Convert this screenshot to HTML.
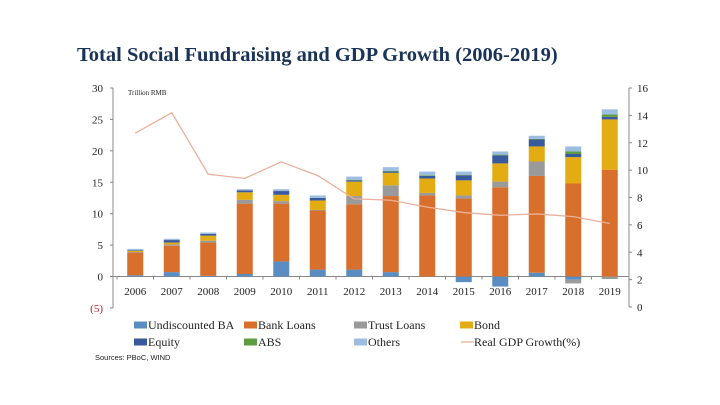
<!DOCTYPE html>
<html><head><meta charset="utf-8">
<style>
body{margin:0;background:#fff;width:720px;height:405px;overflow:hidden}
svg{display:block}
text{font-family:"Liberation Serif",serif;fill:#222}
</style></head>
<body>
<svg id="chart" width="720" height="405">
<text x="77" y="61" font-size="20.5" font-weight="bold" style="fill:#1a3358">Total Social Fundraising and GDP Growth (2006-2019)</text>
<text x="128" y="95" font-size="7">Trillion RMB</text>
<text x="95" y="360" font-size="7.5" style="font-family:'Liberation Sans',sans-serif">Sources: PBoC, WIND</text>
<g id="axes"></g><g id="bars"></g><g id="line"></g><g id="legend"></g>
</svg>
<script>
const years=['2006','2007','2008','2009','2010','2011','2012','2013','2014','2015','2016','2017','2018','2019'];
const ba=[0.2,0.7,0.1,0.4,2.4,1.1,1.1,0.7,0,-0.9,-1.6,0.6,-0.5,0];
const loans=[3.6,4.2,5.3,11.2,9.2,9.4,10.4,12.1,12.9,12.4,14.2,15.4,14.8,17.0];
const trust=[0.1,0.2,0.3,0.6,0.4,0.1,1.3,1.7,0.4,0.5,0.9,2.3,-0.6,-0.4];
const bond=[0.2,0.3,0.8,1.2,1.0,1.5,2.3,2.0,2.3,2.4,2.9,2.4,4.2,8.0];
const equity=[0.1,0.4,0.3,0.3,0.6,0.4,0.2,0.2,0.4,0.8,1.3,1.1,0.5,0.4];
const abs=[0,0,0,0,0,0,0.1,0.1,0.1,0.1,0.1,0.1,0.4,0.4];
const others=[0.2,0.2,0.2,0.2,0.3,0.4,0.5,0.6,0.6,0.5,0.5,0.5,0.8,0.8];
const gdp=[12.7,14.2,9.7,9.4,10.6,9.6,7.9,7.8,7.3,6.9,6.7,6.8,6.6,6.1];
const leftTicks=[-5,0,5,10,15,20,25,30];
const rightTicks=[0,2,4,6,8,10,12,14,16];
const series=[['Undiscounted BA',ba,'#5a8ec2'],['Bank Loans',loans,'#d86f2c'],['Trust Loans',trust,'#9a9a9a'],['Bond',bond,'#e3ac12'],['Equity',equity,'#3a5a9e'],['ABS',abs,'#5d9c42'],['Others',others,'#9dbde0']];
const NS='http://www.w3.org/2000/svg';
const X0=117,X1=628,Y30=88,Y0=276.5;
const yL=v=>Y0-(v/30)*(Y0-Y30);
const yR=v=>307-(v/16)*(307-88);
const step=(X1-X0)/years.length;
const xC=i=>X0+step*(i+0.5);
function mk(tag,attrs,parent){const e=document.createElementNS(NS,tag);for(const k in attrs)e.setAttribute(k,attrs[k]);parent.appendChild(e);return e;}
const axes=document.getElementById('axes');
let e=mk('line',{x1:113,x2:113,y1:yL(30),y2:yL(-5),stroke:'#888','stroke-width':1},axes);


leftTicks.forEach(t=>{mk('line',{x1:110,x2:113,y1:yL(t),y2:yL(t),stroke:'#888'},axes);
 const tx=mk('text',{x:103,y:yL(t)+4,'font-size':11,'text-anchor':'end'},axes);
 tx.textContent=t<0?'('+(-t)+')':t; if(t<0)tx.style.fill='#b0262a';
 
 });
e=mk('line',{x1:629,x2:629,y1:yR(16),y2:yR(0),stroke:'#888'},axes);


rightTicks.forEach(t=>{mk('line',{x1:629,x2:632,y1:yR(t),y2:yR(t),stroke:'#888'},axes);
 const tx=mk('text',{x:637,y:yR(t)+4,'font-size':11},axes);tx.textContent=t;
 
 });
e=mk('line',{x1:113,x2:629,y1:yL(0),y2:yL(0),stroke:'#888'},axes);


years.forEach((y,i)=>{mk('line',{x1:X0+step*i,x2:X0+step*i,y1:yL(0),y2:yL(0)+3,stroke:'#888'},axes);
 const tx=mk('text',{x:xC(i),y:295,'font-size':11,'text-anchor':'middle'},axes);tx.textContent=y;
 
 });
const bars=document.getElementById('bars');
years.forEach((y,i)=>{let pos=0,neg=0;
 series.forEach(([name,arr,col])=>{const v=arr[i];if(!v)return;let a,b;
  if(v>0){a=pos;b=pos+v;pos=b;}else{a=neg;b=neg+v;neg=b;}
  const r=mk('rect',{x:xC(i)-8,width:16,y:Math.min(yL(a),yL(b)),height:Math.abs(yL(a)-yL(b)),fill:col},bars);
  
  });});
const lg=document.getElementById('line');
const pl=mk('polyline',{points:gdp.map((v,i)=>xC(i)+','+yR(v)).join(' '),fill:'none',stroke:'#e9b09c','stroke-width':1.3},lg);


const leg=document.getElementById('legend');
const lx=[134,244,354,460];
series.concat([['Real GDP Growth(%)',null,'#e9b09c']]).forEach(([name,arr,col],k)=>{
 const x=lx[k%4],y=k<4?325:342;
 const g=mk('g',{},leg);
 
 
 if(arr)mk('rect',{x:x,y:y-3.5,width:13,height:7,fill:col},g);
 else mk('line',{x1:x+1,x2:x+14,y1:y,y2:y,stroke:col,'stroke-width':1.3},g);
 const t=mk('text',{x:x+14,y:y+4,'font-size':12},g);t.textContent=name;});
</script>
</body></html>
